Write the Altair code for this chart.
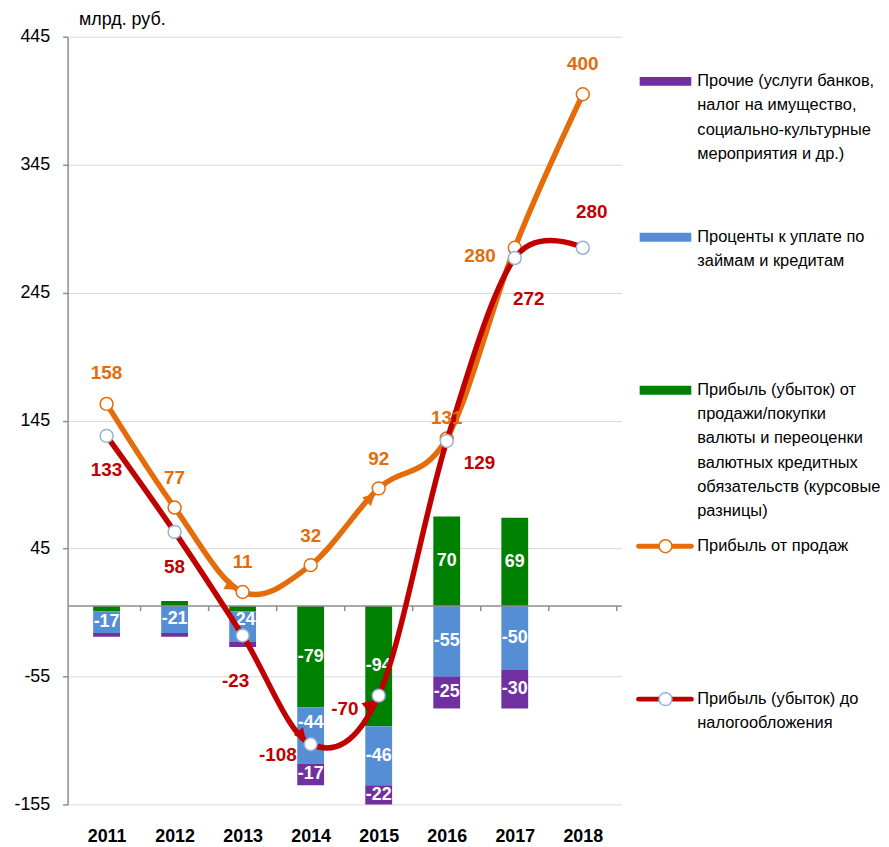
import altair as alt
import pandas as pd

# ---------------- data ----------------
years = [2011, 2012, 2013, 2014, 2015, 2016, 2017, 2018]
bar_years = [2011, 2012, 2013, 2014, 2015, 2016, 2017]
fx_diff = [-4, 4, -4, -79, -94, 70, 69]          # курсовые разницы
interest = [-17, -21, -24, -44, -46, -55, -50]    # проценты к уплате
other = [-3, -3, -4, -17, -22, -25, -30]          # прочие
sales_profit = [158, 77, 11, 32, 92, 131, 280, 400]
pretax_profit = [133, 58, -23, -108, -70, 129, 272, 280]
y_ticks = [-155, -55, 45, 145, 245, 345, 445]

legend_other = ["Прочие (услуги банков,", "налог на имущество,",
                "социально-культурные", "мероприятия и др.)"]
legend_interest = ["Проценты к уплате по", "займам и кредитам"]
legend_fx = ["Прибыль (убыток) от", "продажи/покупки", "валюты и переоценки",
             "валютных кредитных", "обязательств (курсовые", "разницы)"]
legend_sales = ["Прибыль от продаж"]
legend_pretax = ["Прибыль (убыток) до", "налогообложения"]

# ---------------- style ----------------
FONT = "Liberation Sans, Arial, sans-serif"
GREEN, BLUE, PURPLE = "#008000", "#558ED5", "#7030A0"
ORANGE, RED, MARKER_BLUE = "#E46C0A", "#C00000", "#95B3D7"
AXIS_GRAY, GRID_GRAY = "#8c8c8c", "#d9d9d9"
W, H = 558, 773
YMIN, YMAX = -155, 445
BAR_W = 27

# label offsets in px (style)
sales_dx = [0, 0, 0, 0, 0, 0, -35, 0]
sales_dy = [-31, -30, -30, -29, -30, -21, 8, -30]
pretax_dx = [0, 0, -7, -33, -34, 33, 14, 9]
pretax_dy = [34, 35, 46, 11, 13, 22, 41, -36]
bar_label_dy = {(2013, "interest"): -7, (2014, "interest"): -12}
# arrowheads (style): (year, angle in degrees)
sales_arrows = [(2013, 30), (2015, -45)]
pretax_arrows = [(2014, 50), (2015, -40)]

# ---------------- tables ----------------
bar_rows, label_rows = [], []
for i, yr in enumerate(bar_years):
    pos, neg = 0.0, 0.0
    for order, (name, vals) in enumerate([("fx", fx_diff), ("interest", interest), ("other", other)]):
        v = vals[i]
        bar_rows.append(dict(year=yr, series=name, value=v, order=order))
        if v >= 0:
            lo, hi = pos, pos + v
            pos += v
        else:
            lo, hi = neg + v, neg
            neg += v
        lo = max(lo, YMIN)
        if abs(v) >= 15:
            label_rows.append(dict(year=yr, mid=(lo + hi) / 2, txt=str(v),
                                   shift=bar_label_dy.get((yr, name), 0)))
bars_df = pd.DataFrame(bar_rows)
barlab_df = pd.DataFrame(label_rows)

sales_df = pd.DataFrame(dict(year=years, value=sales_profit, txt=[str(v) for v in sales_profit]))
pretax_df = pd.DataFrame(dict(year=years, value=pretax_profit, txt=[str(v) for v in pretax_profit]))
boundaries = [(years[k] + years[k + 1]) / 2 for k in range(len(years) - 1)] + [years[-1] + 0.5]


def arrow_df(arrows, vals, col):
    return pd.DataFrame([dict(year=y, value=vals[years.index(y)], angle=a % 360, col=col)
                         for y, a in arrows])


one = pd.DataFrame({"z": [0]})

# ---------------- scales / axes (same axis objects in every layer) ----------------
xscale = alt.Scale(domain=[years[0] - 0.5, years[-1] + 0.5], nice=False, zero=False)
yscale = alt.Scale(domain=[YMIN, YMAX], nice=False, zero=False)

X_AXIS = alt.Axis(orient="bottom", values=years, format="d", labelAngle=0,
                  labelFontSize=18, labelFontWeight="bold", labelFont=FONT,
                  labelColor="black", labelPadding=23, labelFlush=False,
                  domain=False, ticks=False, grid=False, title="")
Y_AXIS = alt.Axis(values=y_ticks, grid=True, gridColor=GRID_GRAY, gridWidth=1,
                  domainColor=AXIS_GRAY, domainWidth=1.5, tickColor=AXIS_GRAY, tickSize=5,
                  tickWidth=1.5, labelFont=FONT, labelFontSize=18, labelColor="black",
                  labelPadding=13, labelExpr="'' + datum.value",
                  title="млрд. руб.", titleAngle=0, titleAlign="left",
                  titleX=11, titleY=-12, titleBaseline="alphabetic", titleFont=FONT,
                  titleFontSize=18, titleFontWeight="normal", titleColor="black")


def X(field):
    return alt.X(field, scale=xscale, axis=X_AXIS, title="")


def Y(field, **kw):
    return alt.Y(field, scale=yscale, axis=Y_AXIS, title="млрд. руб.", **kw)


# ---------------- layers ----------------
bars = alt.Chart(bars_df).mark_bar(clip=True, size=BAR_W).encode(
    x=X("year:Q"),
    y=Y("value:Q", stack="zero"),
    color=alt.Color("series:N", scale=alt.Scale(domain=["fx", "interest", "other"],
                                                range=[GREEN, BLUE, PURPLE]), legend=None),
    order=alt.Order("order:Q"),
)

zero_px = H * YMAX / (YMAX - YMIN)
zero_rule = alt.Chart(one).mark_rule(color=AXIS_GRAY, strokeWidth=1.5).encode(y=Y("z:Q"))
zero_ticks = alt.Chart(pd.DataFrame({"b": boundaries})).mark_rule(
    color=AXIS_GRAY, strokeWidth=1.5).encode(
    x=X("b:Q"), y=alt.value(zero_px), y2=alt.value(zero_px + 5))

bar_label_layers = []
for s in sorted(set(barlab_df["shift"])):
    bar_label_layers.append(
        alt.Chart(barlab_df).transform_filter(alt.datum.shift == s).mark_text(
            color="white", font=FONT, fontSize=18, fontWeight="bold", baseline="middle", dy=s
        ).encode(x=X("year:Q"), y=Y("mid:Q"), text="txt:N"))


def series_layers(df, color, marker_stroke, arrows):
    line = alt.Chart(df).mark_line(interpolate="cardinal", strokeWidth=5.5, color=color,
                                   strokeCap="round", strokeJoin="round").encode(
        x=X("year:Q"), y=Y("value:Q"))
    arr = alt.Chart(arrow_df(arrows, list(df["value"]), color)).mark_text(
        text="▶", font="DejaVu Sans", fontSize=16, dx=-12, align="center", baseline="middle"
    ).encode(x=X("year:Q"), y=Y("value:Q"),
             angle=alt.Angle("angle:Q", scale=None),
             color=alt.Color("col:N", scale=None))
    pts = alt.Chart(df).mark_point(shape="circle", filled=True, fill="white", opacity=1,
                                   stroke=marker_stroke, strokeWidth=1.5, size=169).encode(
        x=X("year:Q"), y=Y("value:Q"))
    return [line, arr, pts]


def series_labels(df, color, dxs, dys):
    out = []
    for i, yr in enumerate(years):
        out.append(alt.Chart(df).transform_filter(alt.datum.year == yr).mark_text(
            color=color, font=FONT, fontSize=19, fontWeight="bold", baseline="middle",
            align="center", dx=dxs[i], dy=dys[i]).encode(x=X("year:Q"), y=Y("value:Q"),
                                                          text="txt:N"))
    return out


# ---------------- legend (drawn right of the plot) ----------------
LX_SW0, LX_SW1, LX_TXT = 576, 628, 634
LINE_H = 24.3
legend_layers = []


def legend_text(lines, y0):
    for k, t in enumerate(lines):
        legend_layers.append(alt.Chart(one).mark_text(
            text=t, align="left", baseline="middle", font=FONT, fontSize=16.5, color="black"
        ).encode(x=alt.value(LX_TXT), y=alt.value(y0 + k * LINE_H)))


def legend_rect(color, yc):
    legend_layers.append(alt.Chart(one).mark_rect(color=color).encode(
        x=alt.value(LX_SW0), x2=alt.value(LX_SW1),
        y=alt.value(yc - 4.5), y2=alt.value(yc + 4.5)))


def legend_line(color, stroke, yc):
    legend_layers.append(alt.Chart(one).mark_rule(color=color, strokeWidth=5, strokeCap="round").encode(
        x=alt.value(LX_SW0 - 1), x2=alt.value(LX_SW1), y=alt.value(yc)))
    legend_layers.append(alt.Chart(one).mark_point(
        shape="circle", filled=True, fill="white", opacity=1, stroke=stroke, strokeWidth=1.5,
        size=169).encode(x=alt.value((LX_SW0 + LX_SW1) / 2), y=alt.value(yc)))


legend_rect(PURPLE, 45); legend_text(legend_other, 45)
legend_rect(BLUE, 202); legend_text(legend_interest, 202)
legend_rect(GREEN, 356); legend_text(legend_fx, 356)
legend_line(ORANGE, ORANGE, 513); legend_text(legend_sales, 513)
legend_line(RED, MARKER_BLUE, 667); legend_text(legend_pretax, 667)

layers = ([bars, zero_rule, zero_ticks] + bar_label_layers
          + series_layers(sales_df, ORANGE, ORANGE, sales_arrows)
          + series_layers(pretax_df, RED, MARKER_BLUE, pretax_arrows)
          + series_labels(sales_df, ORANGE, sales_dx, sales_dy)
          + series_labels(pretax_df, RED, pretax_dx, pretax_dy)
          + legend_layers)

chart = alt.layer(*layers).properties(
    width=W, height=H, background="white",
    padding={"left": 5, "top": 0, "right": 0, "bottom": 0},
).configure_view(strokeWidth=0)

chart.save("out.html", embed_options={"renderer": "svg", "actions": False})
